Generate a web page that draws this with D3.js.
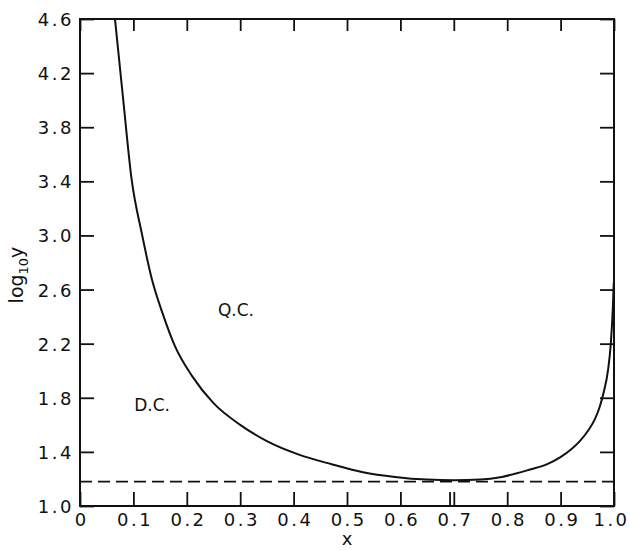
<!DOCTYPE html>
<html>
<head>
<meta charset="utf-8">
<script src="https://cdn.jsdelivr.net/npm/d3@7"></script>
<style>
  body { margin: 0; background: #fff; }
  text { font-family: "DejaVu Sans", "Liberation Sans", sans-serif; fill: #111; }
  .axis text { font-size: 18px; letter-spacing: 2.5px; }
</style>
</head>
<body>
<div id="chart"></div>
<script>
const width = 630;
const height = 550;
const margin = {top: 19, right: 16, bottom: 44, left: 80};

// curve: x and log10 y
const curveX = [0.0655, 0.081, 0.0968, 0.1155, 0.135, 0.155, 0.178, 0.21, 0.25, 0.30,
    0.35, 0.41, 0.47, 0.53, 0.59, 0.65, 0.70, 0.75, 0.79, 0.843,
    0.875, 0.899, 0.92, 0.936, 0.952, 0.964, 0.973, 0.980, 0.989, 0.994,
    0.998, 0.9995];
const curveY = [4.60, 4.00, 3.41, 3.02, 2.67, 2.42, 2.18, 1.96, 1.76, 1.60,
    1.48, 1.38, 1.31, 1.25, 1.215, 1.195, 1.19, 1.195, 1.215, 1.27,
    1.31, 1.36, 1.42, 1.48, 1.56, 1.64, 1.73, 1.83, 2.01, 2.20,
    2.48, 2.65];
const dashedLevel = 1.18;
const xTicks = [0, 0.1, 0.2, 0.3, 0.4, 0.5, 0.6, 0.7, 0.8, 0.9, 1.0];
const yTicks = [1.0, 1.4, 1.8, 2.2, 2.6, 3.0, 3.4, 3.8, 4.2, 4.6];
const extraXTick = [0.693];
const labelText = ['Q.C.', 'D.C.'];
const labelX = [0.292, 0.135];
const labelY = [2.45, 1.75];

const svg = d3.select('#chart')
    .append('svg')
    .attr('width', width)
    .attr('height', height);

const xScale = d3.scaleLinear()
    .domain([0, 1])
    .range([margin.left, width - margin.right]);
const yScale = d3.scaleLinear()
    .domain([1.0, 4.6])
    .range([height - margin.bottom, margin.top]);

const plotW = xScale(1) - xScale(0);
const plotH = yScale(1) - yScale(4.6);

// bottom axis with labels, ticks pointing in
const xAxis = d3.axisBottom(xScale)
    .tickValues(xTicks)
    .tickSize(-14)
    .tickPadding(7)
    .tickFormat(function (d) { return d === 0 ? '0' : d3.format('.1f')(d); });
const xAxisG = svg.append('g')
    .attr('class', 'axis')
    .attr('transform', 'translate(0,' + yScale(1) + ')')
    .call(xAxis);

const yAxis = d3.axisLeft(yScale)
    .tickValues(yTicks)
    .tickSize(-14)
    .tickPadding(6)
    .tickFormat(d3.format('.1f'));
const yAxisG = svg.append('g')
    .attr('class', 'axis')
    .attr('transform', 'translate(' + xScale(0) + ',0)')
    .call(yAxis);

// top and right ticks, no labels
svg.append('g')
    .attr('class', 'axis')
    .attr('transform', 'translate(0,' + yScale(4.6) + ')')
    .call(d3.axisTop(xScale).tickValues(xTicks).tickSize(-12).tickFormat(''));
svg.append('g')
    .attr('class', 'axis')
    .attr('transform', 'translate(' + xScale(1) + ',0)')
    .call(d3.axisRight(yScale).tickValues(yTicks).tickSize(-14).tickFormat(''));

// the extra mark beside 0.7
xAxisG.selectAll('.extra')
    .data(extraXTick)
    .enter()
    .append('line')
    .attr('class', 'extra')
    .attr('x1', function (d) { return xScale(d); })
    .attr('x2', function (d) { return xScale(d); })
    .attr('y1', 0)
    .attr('y2', -14);

svg.selectAll('.axis .domain').remove();
svg.selectAll('.axis line')
    .attr('stroke', '#111')
    .attr('stroke-width', 1.8);
yAxisG.selectAll('.tick text')
    .attr('dy', '0.36em');
// letter-spacing adds a trailing gap; nudge centred labels back
xAxisG.selectAll('.tick text')
    .attr('dx', function (d) { return d === 1 ? -3 : 1.2; });

svg.append('rect')
    .attr('x', xScale(0))
    .attr('y', yScale(4.6))
    .attr('width', plotW)
    .attr('height', plotH)
    .attr('fill', 'none')
    .attr('stroke', '#111')
    .attr('stroke-width', 2);

// dashed asymptote
svg.append('line')
    .attr('x1', xScale(0))
    .attr('x2', xScale(1))
    .attr('y1', yScale(dashedLevel))
    .attr('y2', yScale(dashedLevel))
    .attr('stroke', '#111')
    .attr('stroke-width', 1.6)
    .attr('stroke-dasharray', '12,6');

const points = curveX.map(function (d, i) { return [d, curveY[i]]; });
const line = d3.line()
    .x(function (d) { return xScale(d[0]); })
    .y(function (d) { return yScale(d[1]); })
    .curve(d3.curveMonotoneX);

svg.append('path')
    .datum(points)
    .attr('d', line)
    .attr('fill', 'none')
    .attr('stroke', '#111')
    .attr('stroke-width', 2);

svg.selectAll('.region')
    .data(labelText)
    .enter()
    .append('text')
    .attr('class', 'region')
    .attr('x', function (d, i) { return xScale(labelX[i]); })
    .attr('y', function (d, i) { return yScale(labelY[i]); })
    .attr('text-anchor', 'middle')
    .attr('dy', '0.36em')
    .style('font-size', '17px')
    .text(function (d) { return d; });

// axis titles
svg.append('text')
    .attr('x', xScale(0.5))
    .attr('y', height - 5)
    .attr('text-anchor', 'middle')
    .style('font-size', '18px')
    .text('x');

const yLabel = svg.append('text')
    .attr('transform', 'translate(23,275) rotate(-90)')
    .attr('text-anchor', 'middle')
    .style('font-size', '19px');
yLabel.append('tspan').text('log');
yLabel.append('tspan').attr('dy', 5).style('font-size', '13px').text('10');
yLabel.append('tspan').attr('dy', -5).text('y');
</script>
</body>
</html>
